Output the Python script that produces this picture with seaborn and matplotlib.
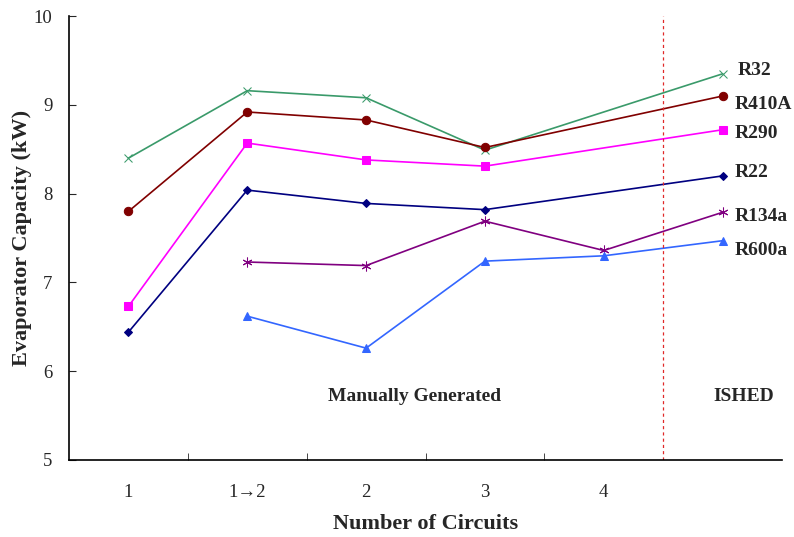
import numpy as np
import pandas as pd
import seaborn as sns
import matplotlib.pyplot as plt

# categories on the x axis (last one is the ISHED result, no tick label)
categories = ["1", "1\u21922", "2", "3", "4", ""]

r32 = [8.40, 9.16, 9.08, 8.49, None, 9.35]
r410a = [7.80, 8.92, 8.83, 8.52, None, 9.10]
r290 = [6.73, 8.57, 8.38, 8.31, None, 8.72]
r22 = [6.44, 8.04, 7.89, 7.82, None, 8.20]
r134a = [None, 7.23, 7.19, 7.69, 7.36, 7.79]
r600a = [None, 6.62, 6.26, 7.24, 7.30, 7.47]

series = {"R32": r32, "R410A": r410a, "R290": r290,
          "R22": r22, "R134a": r134a, "R600a": r600a}
colors = {"R32": "#3a9a6a", "R410A": "#800000", "R290": "#ff00ff",
          "R22": "#000080", "R134a": "#800080", "R600a": "#3366ff"}
markers = {"R32": "x", "R410A": "o", "R290": "s",
           "R22": "D", "R134a": (6, 2, 0), "R600a": "^"}
msizes = {"R32": 6, "R410A": 6, "R290": 6, "R22": 4.5, "R134a": 7, "R600a": 6}
# vertical nudge of the series names next to the last points
label_dy = {"R32": 0.035, "R410A": -0.095, "R290": -0.045,
            "R22": 0.035, "R134a": -0.05, "R600a": -0.115}

sns.set_style("white")
plt.rcParams["font.family"] = ["Liberation Serif", "DejaVu Serif"]

rows = []
for name, vals in series.items():
    for i, v in enumerate(vals):
        if v is not None:
            rows.append({"pos": i, "cap": v, "ref": name})
df = pd.DataFrame(rows)

fig = plt.figure(figsize=(7.94, 5.37), dpi=100)
ax = fig.add_axes([0.0869, 0.1434, 0.898, 0.8266])

for name in series:
    d = df[df["ref"] == name]
    sns.lineplot(data=d, x="pos", y="cap", ax=ax, color=colors[name],
                 marker=markers[name], markersize=msizes[name],
                 markeredgecolor=colors[name], linewidth=1.2, sort=False,
                 legend=False)
    last = d.iloc[-1]
    dx = 0.13 if name == "R32" else 0.10
    ax.text(last["pos"] + dx, last["cap"] + label_dy[name], name, fontsize=14,
            fontweight="bold", va="center", ha="left")

ax.axvline(4.5, color="#e02828", linestyle=(0, (2.5, 2.5)), linewidth=0.9)

ax.set_xlim(-0.5, 5.5)
ax.set_ylim(5, 10)
ax.set_yticks(range(5, 11))
ax.tick_params(axis="y", labelsize=13.5, direction="in", length=5, left=True, pad=12)

# labels centered on categories, tick marks on category boundaries
ax.set_xticks(range(len(categories)))
ax.set_xticklabels(categories, fontsize=13.5)
ax.tick_params(axis="x", length=0, pad=17)
ax.set_xticks([0.5, 1.5, 2.5, 3.5], minor=True)
ax.tick_params(axis="x", which="minor", direction="in", length=5, bottom=True)

for side in ["top", "right"]:
    ax.spines[side].set_visible(False)
for side in ["left", "bottom"]:
    ax.spines[side].set_color("black")
    ax.spines[side].set_linewidth(1.2)

ax.set_xlabel("Number of Circuits", fontsize=16, fontweight="bold", labelpad=10)
ax.set_ylabel("Evaporator Capacity (kW)", fontsize=16, fontweight="bold", labelpad=1)

ax.text(2.41, 5.72, "Manually Generated", fontsize=14, fontweight="bold",
        ha="center", va="center")
ax.text(5.18, 5.72, "ISHED", fontsize=14, fontweight="bold",
        ha="center", va="center")

fig.savefig("out.png", dpi=100)
